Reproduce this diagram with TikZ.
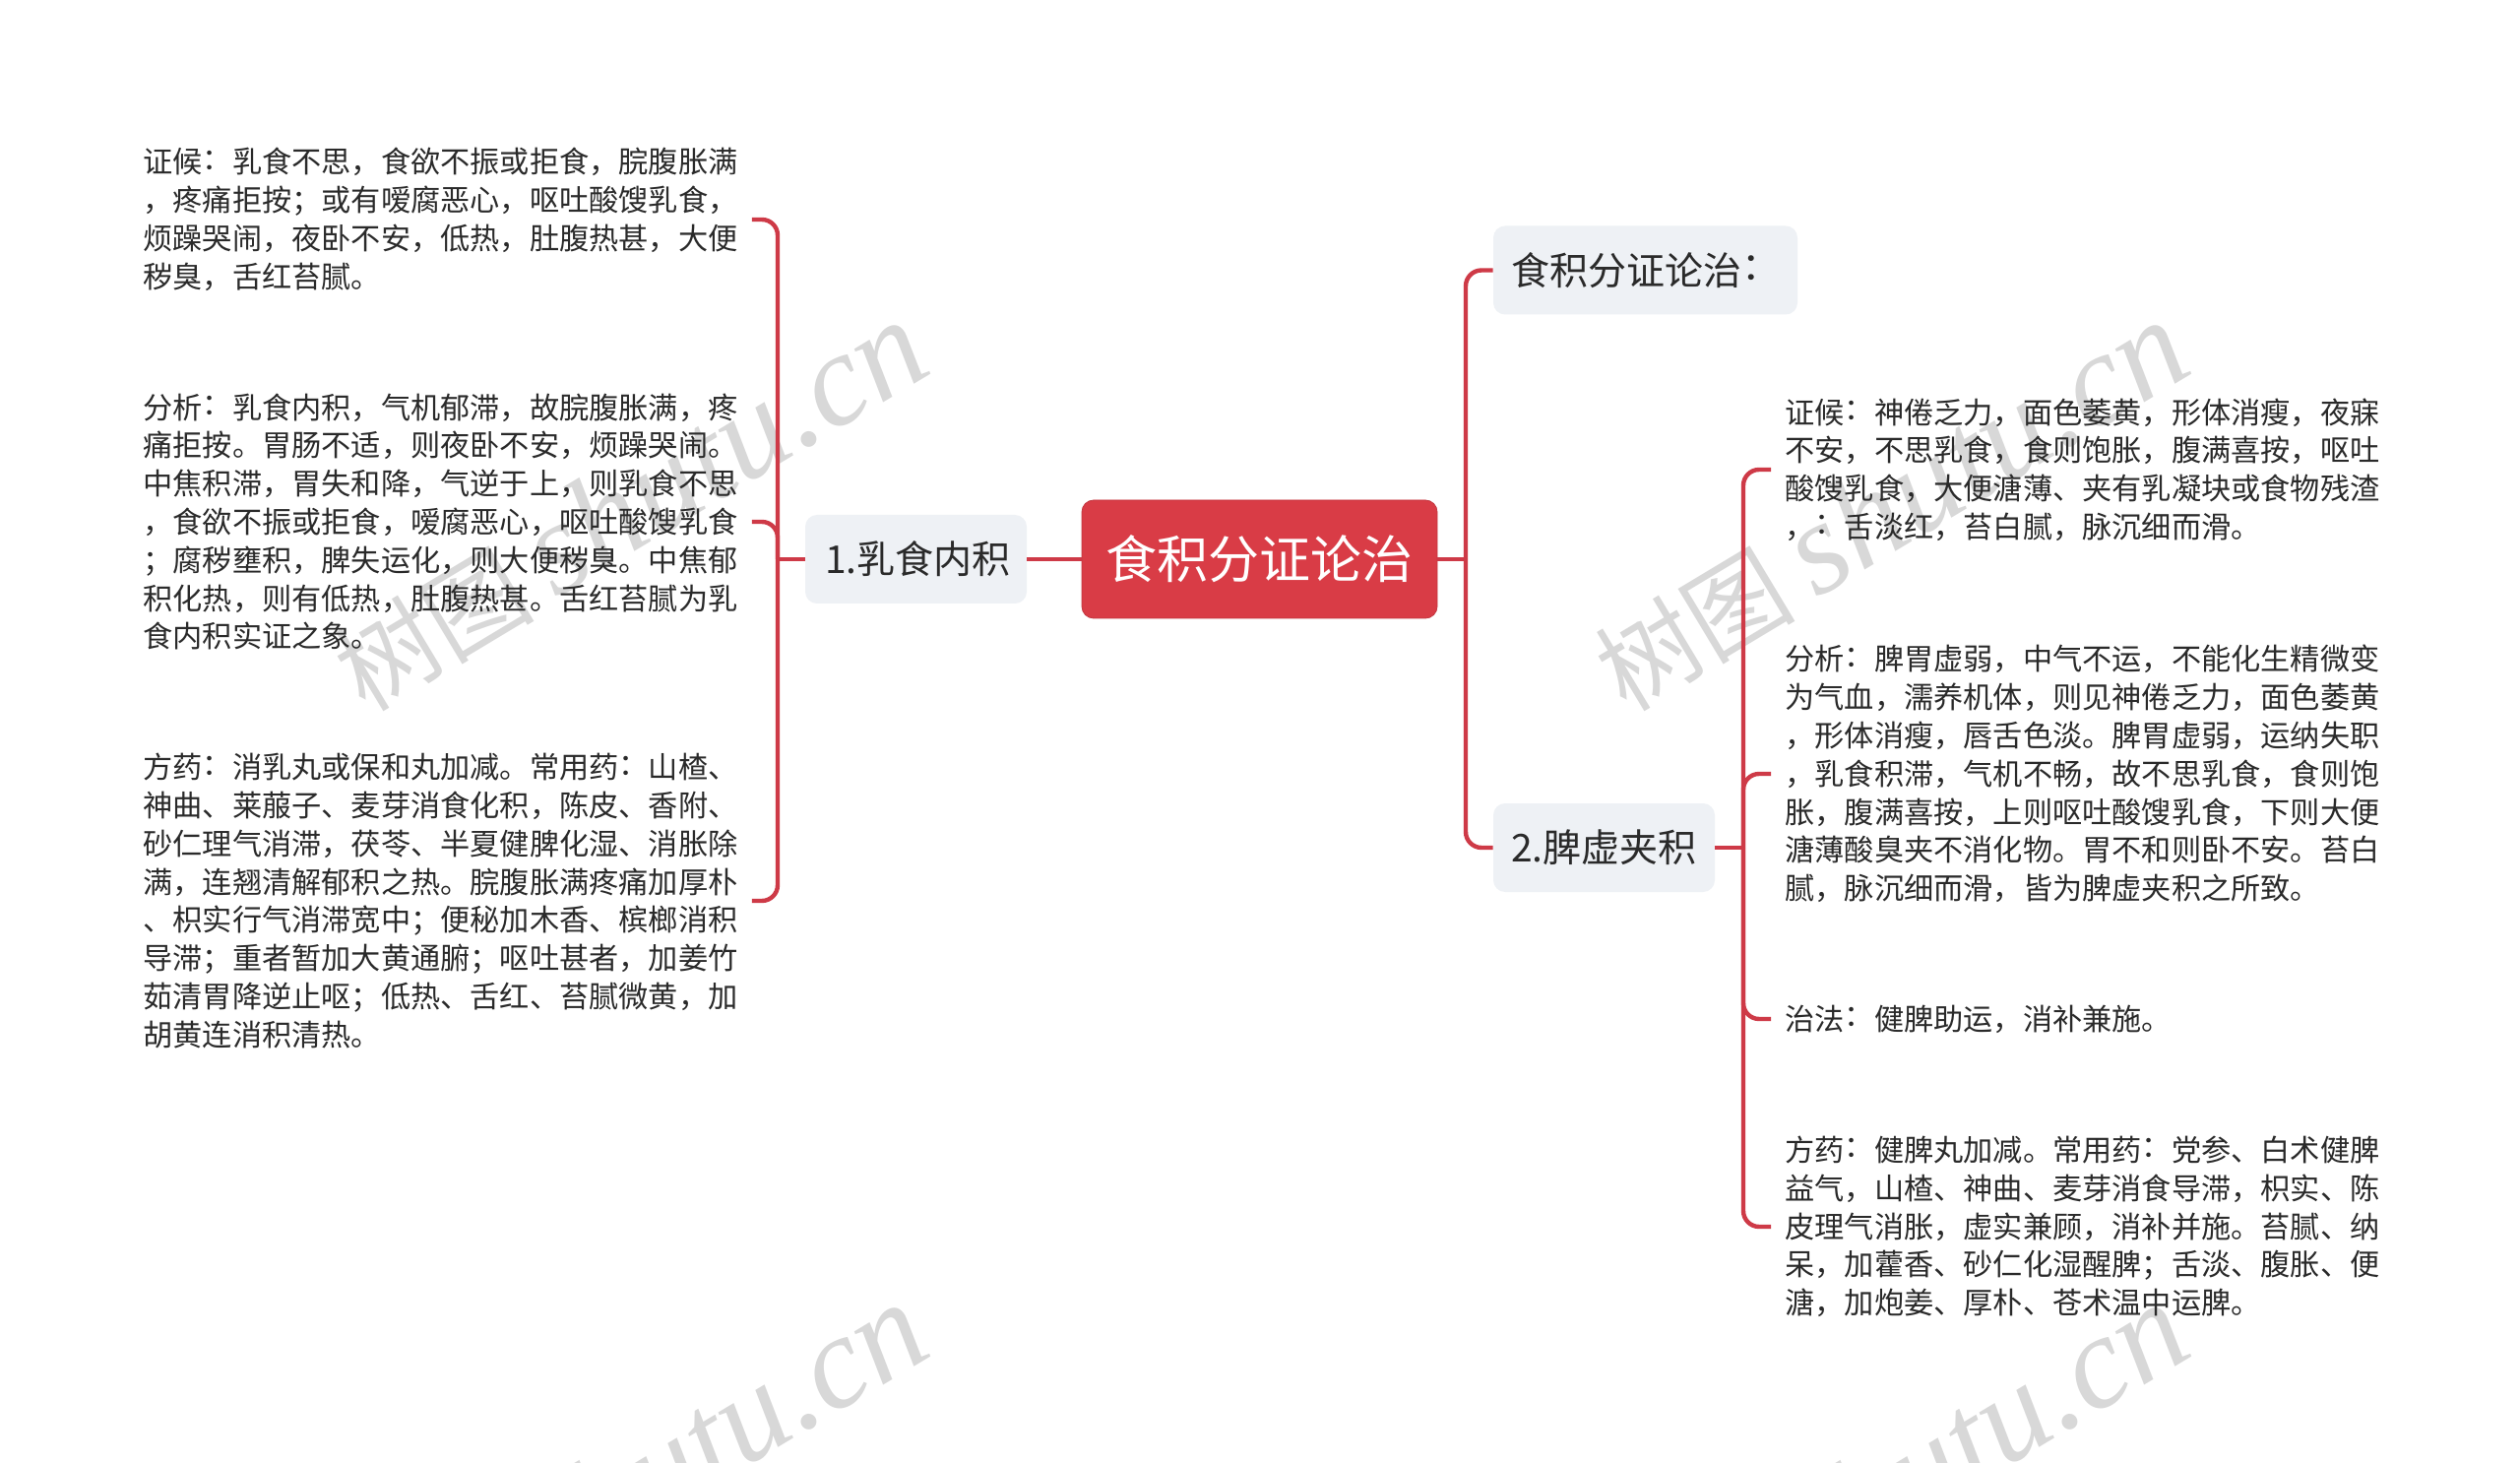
\documentclass[tikz,border=0pt]{standalone}
\usepackage{fontspec}
\setmainfont{Noto Sans CJK SC}
\newfontfamily\wmlatin{Liberation Serif}
\definecolor{linkred}{HTML}{CE3A47}
\definecolor{rootred}{HTML}{D93C46}
\definecolor{boxgrey}{HTML}{EEF1F5}
\definecolor{inkgrey}{HTML}{2A2A2A}
\definecolor{markgrey}{HTML}{D8D8D8}
\newcommand{\cln}{\raisebox{.12em}{：}}
\newcommand{\wmtext}{{\fontsize{51}{60}\selectfont 树图}\hspace{.18em}{\wmlatin\itshape\fontsize{67}{70}\selectfont shutu.cn}}
\tikzset{
  root/.style={draw=rootred!90!black,line width=.4pt,fill=rootred,text=white,rounded corners=6pt,inner sep=0pt,minimum width=180.5pt,minimum height=60pt,font=\fontsize{26}{30}\selectfont},
  branch/.style={fill=boxgrey,text=inkgrey,rounded corners=6pt,inner sep=0pt,minimum height=45pt,font=\fontsize{19.5}{24}\selectfont},
  leaf/.style={anchor=west,text=inkgrey,align=left,inner xsep=7pt,inner ysep=0pt,font=\fontsize{15.1}{19.4}\selectfont},
  link/.style={draw=linkred,line width=2.2pt,rounded corners=8pt}
}
\tikzset{wm/.style={anchor=east,rotate=31,text=markgrey,inner sep=0pt,font=\fontsize{60}{62}\selectfont}}
\begin{document}
\begin{tikzpicture}[x=0.5pt,y=-0.5pt]
\useasboundingbox (0,0) rectangle (2560,1486);
\fill[white] (0,0) rectangle (2560,1486);
\begin{scope}
\clip (0,0) rectangle (2560,1486);
\node[wm] (wa) at (929,340) {\wmtext};
\node[wm] (wb) at (2210,340) {\wmtext};
\node[wm] (wc) at (929,1338) {\wmtext};
\node[wm] (wd) at (2210,1338) {\wmtext};
\end{scope}

\node[root] (root) at (1279.5,568) {食积分证论治};
\node[branch,minimum width=112.5pt] (n1) at (930.5,568) {\hspace{2pt}1.乳食内积};
\node[branch,minimum width=154.5pt] (n0) at (1671.5,274.5) {食积分证论治\cln\hspace{.6em}};
\node[branch,minimum width=112.5pt] (n2) at (1629.5,861) {2.脾虚夹积};

\node[leaf] (l1) at (131,223) {证候\cln 乳食不思，食欲不振或拒食，脘腹胀满\\，疼痛拒按；或有嗳腐恶心，呕吐酸馊乳食，\\烦躁哭闹，夜卧不安，低热，肚腹热甚，大便\\秽臭，舌红苔腻。};
\node[leaf] (l2) at (131,530) {分析\cln 乳食内积，气机郁滞，故脘腹胀满，疼\\痛拒按。胃肠不适，则夜卧不安，烦躁哭闹。\\中焦积滞，胃失和降，气逆于上，则乳食不思\\，食欲不振或拒食，嗳腐恶心，呕吐酸馊乳食\\；腐秽壅积，脾失运化，则大便秽臭。中焦郁\\积化热，则有低热，肚腹热甚。舌红苔腻为乳\\食内积实证之象。};
\node[leaf] (l3) at (131,915) {方药\cln 消乳丸或保和丸加减。常用药\cln 山楂、\\神曲、莱菔子、麦芽消食化积，陈皮、香附、\\砂仁理气消滞，茯苓、半夏健脾化湿、消胀除\\满，连翘清解郁积之热。脘腹胀满疼痛加厚朴\\、枳实行气消滞宽中；便秘加木香、槟榔消积\\导滞；重者暂加大黄通腑；呕吐甚者，加姜竹\\茹清胃降逆止呕；低热、舌红、苔腻微黄，加\\胡黄连消积清热。};

\node[leaf] (r1) at (1799,477) {证候\cln 神倦乏力，面色萎黄，形体消瘦，夜寐\\不安，不思乳食，食则饱胀，腹满喜按，呕吐\\酸馊乳食，大便溏薄、夹有乳凝块或食物残渣\\，\cln 舌淡红，苔白腻，脉沉细而滑。};
\node[leaf] (r2) at (1799,786) {分析\cln 脾胃虚弱，中气不运，不能化生精微变\\为气血，濡养机体，则见神倦乏力，面色萎黄\\，形体消瘦，唇舌色淡。脾胃虚弱，运纳失职\\，乳食积滞，气机不畅，故不思乳食，食则饱\\胀，腹满喜按，上则呕吐酸馊乳食，下则大便\\溏薄酸臭夹不消化物。胃不和则卧不安。苔白\\腻，脉沉细而滑，皆为脾虚夹积之所致。};
\node[leaf] (r3) at (1799,1035) {治法\cln 健脾助运，消补兼施。};
\node[leaf] (r4) at (1799,1246) {方药\cln 健脾丸加减。常用药\cln 党参、白术健脾\\益气，山楂、神曲、麦芽消食导滞，枳实、陈\\皮理气消胀，虚实兼顾，消补并施。苔腻、纳\\呆，加藿香、砂仁化湿醒脾；舌淡、腹胀、便\\溏，加炮姜、厚朴、苍术温中运脾。};

\coordinate (jl) at (790,568);
\coordinate (jm) at (1489,568);
\coordinate (jr) at (1771,861);

\draw[link] (root.west) -- (n1.east);
\draw[link] (n1.west) -- (jl);
\draw[link] (l1.east) -| (jl);
\draw[link] (l2.east) -| (jl);
\draw[link] (l3.east) -| (jl);

\draw[link] (root.east) -- (jm);
\draw[link] (n0.west) -| (jm);
\draw[link] (n2.west) -| (jm);

\draw[link] (n2.east) -- (jr);
\draw[link] (r1.west) -| (jr);
\draw[link] (r2.west) -| (jr);
\draw[link] (r3.west) -| (jr);
\draw[link] (r4.west) -| (jr);
\end{tikzpicture}
\end{document}
